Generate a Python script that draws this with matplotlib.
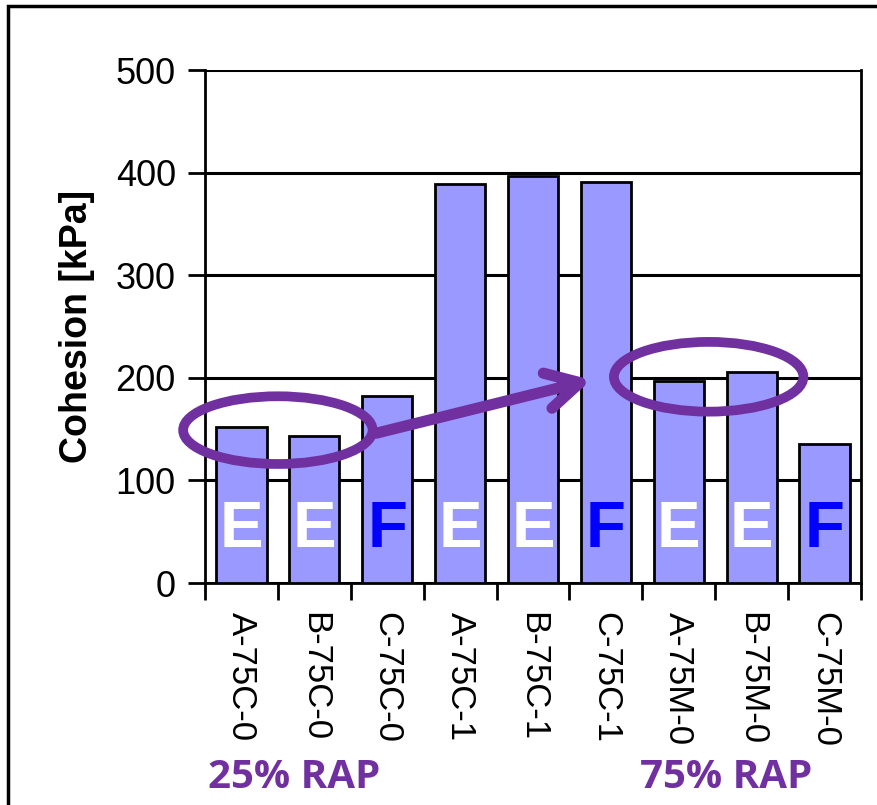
import matplotlib
matplotlib.use("Agg")
import numpy as np
import matplotlib.pyplot as plt
from matplotlib.patches import Ellipse, Rectangle

categories = ["A-75C-0", "B-75C-0", "C-75C-0", "A-75C-1", "B-75C-1",
              "C-75C-1", "A-75M-0", "B-75M-0", "C-75M-0"]
cohesion = [152, 143, 182, 389, 397, 391, 197, 206, 135]
marks = ["E", "E", "F", "E", "E", "F", "E", "E", "F"]
mark_colors = {"E": "white", "F": "#0000FF"}

purple = "#7030A0"

plt.rcParams['font.family'] = ['Liberation Sans', 'DejaVu Sans']

fig = plt.figure(figsize=(8.77, 8.05), dpi=100)
ax = fig.add_axes([205 / 877, 1 - 583 / 805, 656 / 877, 513 / 805])

x = np.arange(len(categories))
ax.bar(x, cohesion, width=0.69, color="#9999FF", edgecolor="black",
       linewidth=2, zorder=3)

ax.set_xlim(-0.5, len(categories) - 0.5)
ax.set_ylim(0, 500)
ax.set_yticks([0, 100, 200, 300, 400, 500])
ax.yaxis.grid(True, color="black", linewidth=2.2, zorder=0)
ax.set_axisbelow(True)

ax.set_xticks(x)
ax.set_xticklabels(categories, rotation=270, fontsize=25, va="top", ha="center")
ax.tick_params(axis="x", length=0, pad=21)
ax.set_xticks(np.arange(-0.5, len(categories)), minor=True)
ax.tick_params(axis="x", which="minor", length=12, width=2, direction="out")
ax.tick_params(axis="y", labelsize=26, length=12, width=2, direction="out", pad=9)

for s in ax.spines.values():
    s.set_linewidth(2)
ax.spines["top"].set_visible(False)

ax.set_ylabel("Cohesion [kPa]", fontsize=27, fontweight="bold", labelpad=15)

for i, m in enumerate(marks):
    ax.text(i, 52, m, ha="center", va="center", fontsize=47, fontweight="bold",
            color=mark_colors[m], zorder=5)

# circles and arrow
ax.add_patch(Ellipse((0.5, 149), 2.6, 66, fill=False, edgecolor=purple,
                     linewidth=7, zorder=6, clip_on=False))
ax.add_patch(Ellipse((6.41, 201), 2.6, 68, fill=False, edgecolor=purple,
                     linewidth=7, zorder=6, clip_on=False))
ax.annotate("", xy=(4.8, 198), xytext=(1.85, 146),
            arrowprops=dict(arrowstyle="->,head_length=2.4,head_width=1.3",
                            color=purple, lw=8, shrinkA=0, shrinkB=0,
                            capstyle="round", joinstyle="round"),
            zorder=6)

fig.text(208 / 877, 1 - 777 / 805, "25% RAP", fontsize=29, fontweight="bold",
         color=purple, family=["Open Sans", "DejaVu Sans"], va="center", ha="left")
fig.text(640 / 877, 1 - 777 / 805, "75% RAP", fontsize=29, fontweight="bold",
         color=purple, family=["Open Sans", "DejaVu Sans"], va="center", ha="left")

fig.add_artist(Rectangle((8 / 877, -0.1), 1.1, 1 - 6 / 805 + 0.1,
                         transform=fig.transFigure, fill=False,
                         edgecolor="black", linewidth=2.5))

fig.savefig("out.png", dpi=100)
